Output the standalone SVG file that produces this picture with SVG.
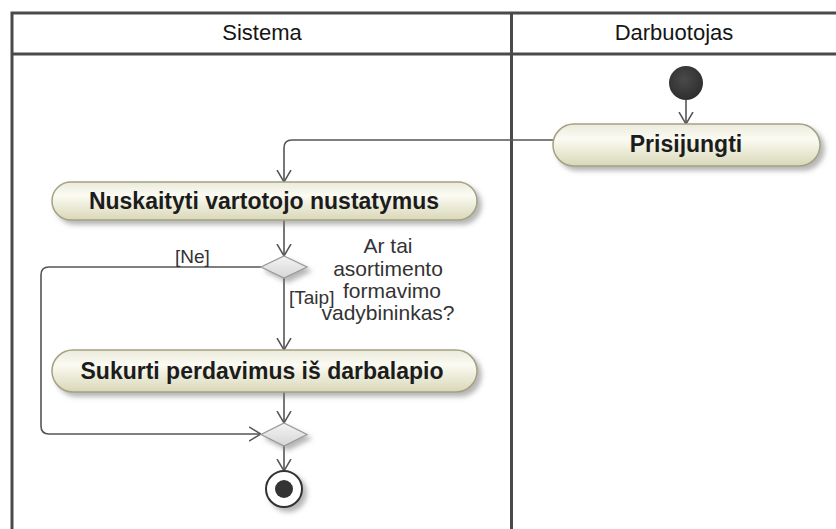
<svg xmlns="http://www.w3.org/2000/svg" width="836" height="529" viewBox="0 0 836 529">
  <defs>
    <linearGradient id="actionFill" x1="0" y1="0" x2="0" y2="1">
      <stop offset="0" stop-color="#eceadb"/>
      <stop offset="0.35" stop-color="#fbfbf3"/>
      <stop offset="1" stop-color="#d9d7b7"/>
    </linearGradient>
    <linearGradient id="diamondFill" x1="0" y1="0" x2="0" y2="1">
      <stop offset="0" stop-color="#f4f4f4"/>
      <stop offset="1" stop-color="#d6d6d6"/>
    </linearGradient>
    <radialGradient id="startFill" cx="0.45" cy="0.4" r="0.6">
      <stop offset="0" stop-color="#4a4a4a"/>
      <stop offset="1" stop-color="#2e2e2e"/>
    </radialGradient>
    <filter id="shadow" x="-20%" y="-30%" width="150%" height="180%">
      <feDropShadow dx="4" dy="4" stdDeviation="2.5" flood-color="#7a7a7a" flood-opacity="0.55"/>
    </filter>
    <marker id="arrow" markerUnits="userSpaceOnUse" viewBox="0 0 12 16" refX="12" refY="8" markerWidth="12" markerHeight="16" orient="auto">
      <path d="M0,1 L12,8 L0,15" fill="none" stroke="#555" stroke-width="1.5"/>
    </marker>
  </defs>
  <style>
    .frame { fill: none; stroke: #4a4a4a; stroke-width: 3; }
    .lane-title { font-family: "Liberation Sans", Arial, sans-serif; font-size: 22px; fill: #151515; text-anchor: middle; }
    .action rect { fill: url(#actionFill); stroke: #a3a283; stroke-width: 1.5; filter: url(#shadow); }
    .action text { font-family: "Liberation Sans", Arial, sans-serif; font-size: 23px; font-weight: bold; fill: #1c1c1c; text-anchor: middle; }
    .decision polygon { fill: url(#diamondFill); stroke: #9a9a9a; stroke-width: 1.3; filter: url(#shadow); }
    .flow { fill: none; stroke: #555; stroke-width: 1.6; marker-end: url(#arrow); }
    .guard { font-family: "Liberation Sans", Arial, sans-serif; font-size: 19px; fill: #333; }
    .note { font-family: "Liberation Sans", Arial, sans-serif; font-size: 21px; fill: #333; text-anchor: middle; }
  </style>

  <rect width="836" height="529" fill="#ffffff"/>

  <!-- swimlane frame -->
  <g id="lanes">
    <path class="frame" d="M12,529 V13 H836 M12,54 H836 M511.5,13 V529"/>
    <text class="lane-title" x="262" y="40">Sistema</text>
    <text class="lane-title" x="674" y="40">Darbuotojas</text>
  </g>

  <!-- control flows -->
  <g id="connectors">
    <path class="flow" d="M686,100 V124"/>
    <path class="flow" d="M553,140 H292 Q284,140 284,148 V182"/>
    <path class="flow" d="M284,220 V256"/>
    <path class="flow" d="M284,278 V350"/>
    <path class="flow" d="M284,392 V423"/>
    <path class="flow" d="M261,267 H49 Q41,267 41,275 V426 Q41,434 49,434 H261"/>
    <path class="flow" d="M284,446 V471"/>
    <text class="guard" x="175" y="263">[Ne]</text>
    <text class="guard" x="289" y="304">[Taip]</text>
  </g>

  <g id="start">
    <circle cx="686" cy="83" r="17" fill="url(#startFill)"/>
  </g>

  <g id="prisijungti" class="action">
    <rect x="553" y="124" width="267" height="42" rx="21" ry="21"/>
    <text x="686" y="152">Prisijungti</text>
  </g>

  <g id="nuskaityti" class="action">
    <rect x="52" y="182" width="425" height="38" rx="19" ry="19"/>
    <text x="264" y="209">Nuskaityti vartotojo nustatymus</text>
  </g>

  <g id="decision" class="decision">
    <polygon points="284,256 307,267 284,278 261,267"/>
    <text class="note" x="388" y="253">Ar tai</text>
    <text class="note" x="388" y="276">asortimento</text>
    <text class="note" x="392" y="298">formavimo</text>
    <text class="note" x="388" y="320">vadybininkas?</text>
  </g>

  <g id="sukurti" class="action">
    <rect x="52" y="350" width="425" height="42" rx="21" ry="21"/>
    <text x="262" y="379">Sukurti perdavimus iš darbalapio</text>
  </g>

  <g id="merge" class="decision">
    <polygon points="284,423 307,434.5 284,446 261,434.5"/>
  </g>

  <g id="final">
    <circle cx="284" cy="489" r="18" fill="#ffffff" stroke="#333" stroke-width="2" filter="url(#shadow)"/>
    <circle cx="284" cy="489" r="9" fill="#333"/>
  </g>
</svg>
